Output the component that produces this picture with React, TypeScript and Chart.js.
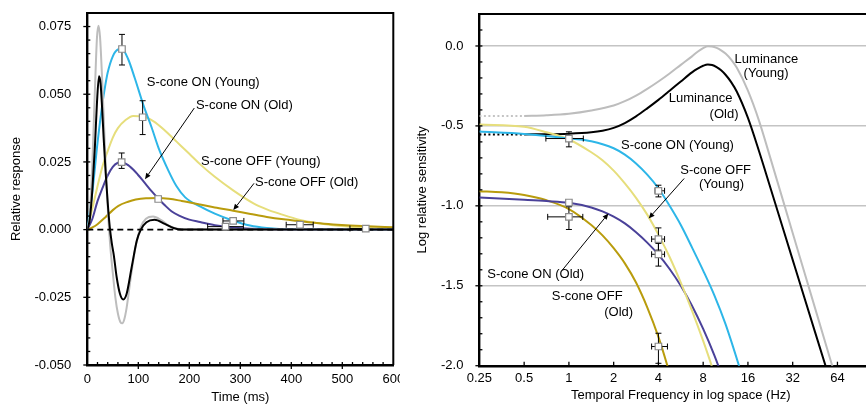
import React, { useEffect, useRef } from 'react';
import { Chart, registerables } from 'chart.js';

Chart.register(...registerables);

const FONT = '"Liberation Sans", Arial, Helvetica, sans-serif';

// ---------------- Left panel: impulse responses (time, ms) ----------------
const lumYoungT = [0, 5, 10, 15, 19, 22, 25, 29, 33, 37, 41, 45, 50, 55, 60, 65, 68.6, 72, 77, 85, 95, 105, 115, 129, 145, 160, 180, 200, 600];
const lumYoungV = [0, 0.006, 0.025, 0.052, 0.071, 0.0753, 0.071, 0.056, 0.038, 0.02, 0.005, -0.006, -0.016, -0.025, -0.031, -0.0342, -0.0346, -0.0335, -0.029, -0.018, -0.006, 0.001, 0.004, 0.0048, 0.0035, 0.0015, 0.0002, 0, 0];

const lumOldT = [0, 5, 10, 15, 19, 23, 26, 29, 32, 36, 40, 44, 48, 52, 57.6, 64, 70.6, 77, 87, 97, 105, 116, 132, 152, 169, 185, 600];
const lumOldV = [0, 0.004, 0.015, 0.031, 0.047, 0.0566, 0.054, 0.045, 0.034, 0.021, 0.01, 0.001, -0.005, -0.0095, -0.0176, -0.0237, -0.0258, -0.0238, -0.0139, -0.0041, 0, 0.0027, 0.0036, 0.0021, 0.0006, 0, 0];

const onYoungT = [0, 10, 20, 30, 35, 40, 50, 60, 68, 80, 93, 110, 126, 140, 159, 175, 192, 222, 250, 286, 319, 352, 400, 600];
const onYoungV = [0, 0.014, 0.032, 0.047, 0.053, 0.058, 0.064, 0.0665, 0.0667, 0.063, 0.056, 0.046, 0.0378, 0.03, 0.0218, 0.016, 0.0119, 0.0085, 0.0059, 0.0033, 0.0015, 0.0006, 0.0001, 0];

const offYoungT = [0, 10, 20, 30, 40, 50, 60, 75, 90, 110, 130, 150, 175, 200, 222, 250, 286, 325, 352, 378, 417, 482, 547, 600];
const offYoungV = [0, 0.008, 0.016, 0.0235, 0.029, 0.034, 0.0375, 0.0405, 0.042, 0.0418, 0.04, 0.037, 0.0325, 0.028, 0.024, 0.0195, 0.0145, 0.0098, 0.0075, 0.0058, 0.0036, 0.0016, 0.0007, 0.0003];

const onOldT = [0, 10, 20, 30, 40, 50, 60, 67, 80, 95, 113, 126, 139, 152, 165, 180, 200, 221, 250, 273, 320, 400, 600];
const onOldV = [0, 0.004, 0.0105, 0.0155, 0.02, 0.0232, 0.0247, 0.0249, 0.0238, 0.0212, 0.0172, 0.0142, 0.0115, 0.009, 0.0068, 0.0052, 0.0037, 0.0028, 0.0016, 0.001, 0.0003, 0, 0];

const offOldT = [0, 10, 20, 35, 50, 61, 80, 95, 115, 140, 160, 185, 221, 250, 286, 320, 352, 385, 417, 450, 482, 515, 550, 600];
const offOldV = [0, 0.0008, 0.002, 0.0045, 0.0072, 0.0088, 0.0103, 0.0111, 0.0116, 0.0117, 0.0114, 0.0106, 0.0093, 0.0082, 0.007, 0.0058, 0.0047, 0.0038, 0.0031, 0.0024, 0.0019, 0.0015, 0.0012, 0.0009];

const zeroT = [0, 600];
const zeroV = [0, 0];

// measured points with error bars (left)
const ptLT = [68, 108.5, 67.4, 139, 286, 271, 417, 546];
const ptLV = [0.0667, 0.0415, 0.0249, 0.0113, 0.0032, 0.0011, 0.0018, 0.0004];
const ptLYLo = [0.0608, 0.0351, 0.0226, 0.0104, 0.0032, 0.0011, 0.0018, 0.0004];
const ptLYHi = [0.0721, 0.0476, 0.0283, 0.0123, 0.0032, 0.0011, 0.0018, 0.0004];
const ptLXLo = [68, 108.5, 67.4, 139, 266, 236, 390, 515];
const ptLXHi = [68, 108.5, 67.4, 139, 307, 306, 443, 551];

const timeTicks = [0, 100, 200, 300, 400, 500, 600];
const respTicks = [-0.05, -0.025, 0, 0.025, 0.05, 0.075];

const leftLabels = ['S-cone ON (Young)', 'S-cone ON (Old)', 'S-cone OFF (Young)', 'S-cone OFF (Old)'];
const leftLabelT = [116.5, 213, 223, 328.8];
const leftLabelV = [0.0542, 0.0458, 0.0251, 0.0175];
const leftArrowT1 = [209.8, 326.9];
const leftArrowV1 = [0.0449, 0.0171];
const leftArrowT2 = [113.1, 286.3];
const leftArrowV2 = [0.0186, 0.0072];

// ---------------- Right panel: temporal sensitivity (Hz, log) ----------------
const dotGrayF = [0.25, 0.5];
const dotGrayV = [-0.4375, -0.4375];
const dotBlackF = [0.25, 0.5];
const dotBlackV = [-0.553, -0.553];

const lumYoungF = [0.5, 0.707, 1, 1.414, 2, 2.378, 2.828, 3.364, 4, 4.757, 5.657, 6.727, 7.34, 8, 8.6, 9.19, 9.85, 10.56, 11.31, 12.34, 13.45, 16, 19.03, 22.63, 32, 45.25, 64];
const lumYoungS = [-0.4375, -0.433, -0.4235, -0.403, -0.372, -0.345, -0.31, -0.268, -0.222, -0.172, -0.118, -0.065, -0.036, -0.013, -0.001, -0.003, -0.012, -0.027, -0.047, -0.085, -0.135, -0.28, -0.47, -0.7, -1.17, -1.64, -2.11];

const lumOldF = [0.5, 0.707, 1, 1.414, 1.682, 2, 2.378, 2.828, 3.364, 4, 4.757, 5.657, 6.727, 7.34, 8, 8.6, 9.19, 9.85, 10.56, 11.31, 12.34, 13.45, 16, 19.03, 22.63, 32, 45.25, 64];
const lumOldS = [-0.553, -0.552, -0.549, -0.54, -0.53, -0.512, -0.482, -0.44, -0.39, -0.337, -0.28, -0.222, -0.165, -0.142, -0.124, -0.116, -0.119, -0.132, -0.152, -0.18, -0.226, -0.285, -0.45, -0.66, -0.885, -1.338, -1.79, -2.24];

const onYoungF = [0.25, 0.5, 1, 1.414, 2, 2.378, 2.828, 3.364, 4, 4.757, 5.657, 6.727, 8, 9.514, 11.31, 13.93, 15];
const onYoungS = [-0.535, -0.55, -0.578, -0.596, -0.64, -0.68, -0.735, -0.805, -0.89, -1.0, -1.12, -1.26, -1.405, -1.56, -1.74, -2.0, -2.1];

const offYoungF = [0.25, 0.5, 0.707, 1, 1.414, 1.682, 2, 2.378, 2.828, 3.364, 4, 4.757, 5.657, 6.727, 8, 9.19, 10.56];
const offYoungS = [-0.491, -0.505, -0.54, -0.585, -0.665, -0.715, -0.78, -0.86, -0.95, -1.055, -1.18, -1.32, -1.48, -1.655, -1.845, -2.01, -2.2];

const onOldF = [0.25, 0.5, 0.707, 1, 1.414, 1.682, 2, 2.378, 2.828, 3.364, 4, 4.757, 5.657, 6.727, 8, 9.514, 10.2, 11];
const onOldS = [-0.948, -0.962, -0.97, -0.981, -1.01, -1.035, -1.068, -1.11, -1.165, -1.23, -1.305, -1.395, -1.5, -1.625, -1.77, -1.935, -2.01, -2.1];

const offOldF = [0.25, 0.354, 0.5, 0.707, 1, 1.414, 1.682, 2, 2.378, 2.828, 3.364, 4, 4.595, 5];
const offOldS = [-0.908, -0.915, -0.932, -0.965, -1.02, -1.12, -1.185, -1.265, -1.36, -1.48, -1.635, -1.82, -2.0, -2.12];

const ptRF = [1, 4, 1, 1, 4, 4, 4];
const ptRS = [-0.579, -0.906, -0.979, -1.069, -1.208, -1.303, -1.88];
const ptRYLo = [-0.631, -0.944, -0.979, -1.148, -1.277, -1.377, -1.985];
const ptRYHi = [-0.537, -0.871, -0.979, -1.006, -1.138, -1.235, -1.797];
const ptRXLo = [0.7, 3.8, 1, 0.72, 3.6, 3.6, 3.6];
const ptRXHi = [1.25, 4.4, 1, 1.24, 4.4, 4.4, 4.6];

const freqTicks = [0.25, 0.5, 1, 2, 4, 8, 16, 32, 64];
const sensTicks = [-2, -1.5, -1, -0.5, 0];

const rightLabels = ['Luminance', '(Young)', 'Luminance', '(Old)', 'S-cone ON (Young)', 'S-cone OFF', '(Young)', 'S-cone ON (Old)', 'S-cone OFF', '(Old)'];
const rightLabelAlign = ['center', 'center', 'center', 'center', 'left', 'left', 'left', 'left', 'left', 'left'];
const rightLabelF = [21.3, 21.2, 7.69, 11.05, 2.24, 5.61, 7.5, 0.2826, 0.767, 1.727];
const rightLabelS = [-0.083, -0.169, -0.331, -0.427, -0.625, -0.777, -0.866, -1.427, -1.569, -1.666];
const rightArrowF1 = [5.96, 0.903];
const rightArrowS1 = [-0.829, -1.402];
const rightArrowF2 = [3.44, 1.844];
const rightArrowS2 = [-1.079, -1.048];

// ---------------- colours ----------------
const C_GRAY = '#bdbdbd';
const C_BLACK = '#000000';
const C_BLUE = '#2db6e8';
const C_LYEL = '#e6de7c';
const C_PURP = '#4a4199';
const C_DYEL = '#b99c0d';

const pts = (xs: number[], ys: number[]) => xs.map((x, i) => ({ x, y: ys[i] }));

const lineDs = (xs: number[], ys: number[], color: string, order: number, extra: any = {}) => ({
  data: pts(xs, ys),
  showLine: true,
  borderColor: color,
  backgroundColor: color,
  borderWidth: 2,
  pointRadius: 0,
  cubicInterpolationMode: 'monotone',
  order,
  ...extra,
});

const markerDs = (xs: number[], ys: number[]) => ({
  data: pts(xs, ys),
  showLine: false,
  pointStyle: 'rect',
  pointRadius: 4.6,
  pointBorderWidth: 1.2,
  pointBorderColor: '#8a8a8a',
  pointBackgroundColor: '#ffffff',
  order: -1,
});

function makeDecor(cfg: any) {
  return {
    id: 'decor',
    beforeDatasetDraw(chart: any, args: any) {
      if (args.index !== cfg.markerIndex) return;
      const { ctx } = chart;
      const x = chart.scales.x;
      const y = chart.scales.y;
      const e = cfg.err;
      const cap = 3;
      ctx.save();
      ctx.strokeStyle = '#000';
      ctx.lineWidth = 1;
      const seg = (a: number, b: number, c: number, d: number) => {
        ctx.beginPath();
        ctx.moveTo(a, b);
        ctx.lineTo(c, d);
        ctx.stroke();
      };
      for (let i = 0; i < e.x.length; i++) {
        const px = x.getPixelForValue(e.x[i]);
        const py = y.getPixelForValue(e.y[i]);
        if (e.yLo[i] !== e.yHi[i]) {
          const a = y.getPixelForValue(e.yLo[i]);
          const b = y.getPixelForValue(e.yHi[i]);
          seg(px, a, px, b);
          seg(px - cap, a, px + cap, a);
          seg(px - cap, b, px + cap, b);
        }
        if (e.xLo[i] !== e.xHi[i]) {
          const a = x.getPixelForValue(e.xLo[i]);
          const b = x.getPixelForValue(e.xHi[i]);
          seg(a, py, b, py);
          seg(a, py - cap, a, py + cap);
          seg(b, py - cap, b, py + cap);
        }
      }
      ctx.restore();
    },
    afterDatasetsDraw(chart: any) {
      const { ctx } = chart;
      const x = chart.scales.x;
      const y = chart.scales.y;
      ctx.save();
      ctx.fillStyle = '#000';
      ctx.strokeStyle = '#000';
      ctx.font = `13px ${FONT}`;
      ctx.textBaseline = 'middle';
      cfg.labels.text.forEach((t: string, i: number) => {
        ctx.textAlign = cfg.labels.align ? cfg.labels.align[i] : 'left';
        ctx.fillText(t, x.getPixelForValue(cfg.labels.x[i]), y.getPixelForValue(cfg.labels.y[i]));
      });
      ctx.lineWidth = 1;
      for (let i = 0; i < cfg.arrows.x1.length; i++) {
        const x1 = x.getPixelForValue(cfg.arrows.x1[i]);
        const y1 = y.getPixelForValue(cfg.arrows.y1[i]);
        const x2 = x.getPixelForValue(cfg.arrows.x2[i]);
        const y2 = y.getPixelForValue(cfg.arrows.y2[i]);
        const ang = Math.atan2(y2 - y1, x2 - x1);
        const hl = 6;
        const hw = 2.6;
        const bx = x2 - hl * Math.cos(ang);
        const by = y2 - hl * Math.sin(ang);
        ctx.beginPath();
        ctx.moveTo(x1, y1);
        ctx.lineTo(bx, by);
        ctx.stroke();
        ctx.beginPath();
        ctx.moveTo(x2, y2);
        ctx.lineTo(bx + hw * Math.sin(ang), by - hw * Math.cos(ang));
        ctx.lineTo(bx - hw * Math.sin(ang), by + hw * Math.cos(ang));
        ctx.closePath();
        ctx.fill();
      }
      ctx.restore();
    },
    afterDraw(chart: any) {
      const { ctx, chartArea } = chart;
      const x = chart.scales.x;
      const y = chart.scales.y;
      const { left, right, top, bottom } = chartArea;
      ctx.save();
      ctx.strokeStyle = '#000';
      ctx.lineWidth = 2;
      ctx.beginPath();
      ctx.moveTo(left - 1, top);
      ctx.lineTo(cfg.frameRight ? right : chart.width, top);
      if (cfg.frameRight) {
        ctx.lineTo(right, bottom);
      }
      ctx.stroke();
      ctx.lineWidth = 1.3;
      const seg = (a: number, b: number, c: number, d: number) => {
        ctx.beginPath();
        ctx.moveTo(a, b);
        ctx.lineTo(c, d);
        ctx.stroke();
      };
      cfg.yMajor.forEach((v: number) => {
        const py = y.getPixelForValue(v);
        seg(left - cfg.yMajorLen, py, left, py);
      });
      const ny = Math.round((cfg.yMax - cfg.yMin) / cfg.yMinorStep);
      for (let i = 0; i <= ny; i++) {
        const v = cfg.yMin + i * cfg.yMinorStep;
        const py = y.getPixelForValue(v);
        if (py < top + 1 || py > bottom - 1) continue;
        seg(left, py, left + 3, py);
      }
      cfg.xMajor.forEach((v: number) => {
        const px = x.getPixelForValue(v);
        if (px <= left + 1 || px >= right - 1) return;
        if (cfg.xMajorInside) seg(px, bottom, px, bottom - 4);
        else seg(px, bottom, px, bottom + 4);
      });
      if (cfg.xMinorStep) {
        const nx = Math.round((cfg.xMax - cfg.xMin) / cfg.xMinorStep);
        for (let i = 1; i < nx; i++) {
          const px = x.getPixelForValue(cfg.xMin + i * cfg.xMinorStep);
          seg(px, bottom, px, bottom - 3);
        }
      }
      ctx.restore();
    },
  };
}

const tickFont = { family: FONT, size: 13 };

function LeftChart() {
  const ref = useRef<HTMLCanvasElement | null>(null);
  useEffect(() => {
    if (!ref.current) return;
    const datasets: any[] = [
      lineDs(zeroT, zeroV, '#000', 0, { borderDash: [6, 4], borderWidth: 1.6, cubicInterpolationMode: 'default', tension: 0 }),
      lineDs(lumOldT, lumOldV, C_BLACK, 1),
      lineDs(lumYoungT, lumYoungV, C_GRAY, 2),
      lineDs(onOldT, onOldV, C_PURP, 3),
      lineDs(offOldT, offOldV, C_DYEL, 4),
      lineDs(onYoungT, onYoungV, C_BLUE, 5),
      lineDs(offYoungT, offYoungV, C_LYEL, 6),
      markerDs(ptLT, ptLV),
    ];
    const decor = makeDecor({
      markerIndex: 7,
      err: { x: ptLT, y: ptLV, yLo: ptLYLo, yHi: ptLYHi, xLo: ptLXLo, xHi: ptLXHi },
      labels: { text: leftLabels, x: leftLabelT, y: leftLabelV },
      arrows: { x1: leftArrowT1, y1: leftArrowV1, x2: leftArrowT2, y2: leftArrowV2 },
      frameRight: true,
      yMajor: respTicks,
      yMajorLen: 4,
      yMin: -0.05,
      yMax: 0.08,
      yMinorStep: 0.005,
      xMajor: timeTicks,
      xMajorInside: false,
      xMin: 0,
      xMax: 600,
      xMinorStep: 20,
    });
    const chart = new Chart(ref.current, {
      type: 'scatter',
      data: { datasets },
      plugins: [decor],
      options: {
        animation: false,
        responsive: false,
        events: [],
        layout: { padding: { top: 13, right: 6.7, left: 0, bottom: 0 } },
        plugins: { legend: { display: false }, tooltip: { enabled: false } },
        scales: {
          x: {
            type: 'linear',
            min: 0,
            max: 600,
            afterBuildTicks: (s: any) => {
              s.ticks = timeTicks.map((v) => ({ value: v }));
            },
            afterFit: (s: any) => {
              s.height = 40;
              s.paddingLeft = 0;
              s.paddingRight = 0;
            },
            grid: { display: true, drawOnChartArea: false, drawTicks: false },
            border: { display: true, color: '#000', width: 2.4 },
            ticks: { padding: 7, color: '#000', font: tickFont, maxRotation: 0, autoSkip: false, callback: (v: any) => String(v) },
            title: { display: true, text: 'Time (ms)', color: '#000', font: tickFont, padding: { top: 0, bottom: 0 } },
          },
          y: {
            type: 'linear',
            min: -0.05,
            max: 0.08,
            afterBuildTicks: (s: any) => {
              s.ticks = respTicks.map((v) => ({ value: v }));
            },
            afterFit: (s: any) => {
              s.width = 87.3;
              s.paddingTop = 0;
              s.paddingBottom = 0;
            },
            grid: { display: true, drawOnChartArea: false, drawTicks: false },
            border: { display: true, color: '#000', width: 2.4 },
            ticks: { padding: 16, color: '#000', font: tickFont, callback: (v: any) => Number(v).toFixed(3) },
            title: { display: true, text: 'Relative response', color: '#000', font: tickFont, padding: { top: 9, bottom: 0 } },
          },
        },
      } as any,
    });
    return () => chart.destroy();
  }, []);
  return <canvas ref={ref} width={400} height={405} style={{ position: 'absolute', left: 0, top: 0, width: 400, height: 405 }} />;
}

function RightChart() {
  const ref = useRef<HTMLCanvasElement | null>(null);
  useEffect(() => {
    if (!ref.current) return;
    const datasets: any[] = [
      lineDs(dotGrayF, dotGrayV, '#c4c4c4', 8, { borderDash: [2, 2.5], borderWidth: 2, tension: 0 }),
      lineDs(dotBlackF, dotBlackV, C_BLACK, 8, { borderDash: [2, 2.5], borderWidth: 2, tension: 0 }),
      lineDs(lumYoungF, lumYoungS, C_GRAY, 7),
      lineDs(lumOldF, lumOldS, C_BLACK, 6),
      lineDs(offOldF, offOldS, C_DYEL, 5),
      lineDs(onOldF, onOldS, C_PURP, 4),
      lineDs(offYoungF, offYoungS, C_LYEL, 3),
      lineDs(onYoungF, onYoungS, C_BLUE, 2),
      markerDs(ptRF, ptRS),
    ];
    const decor = makeDecor({
      markerIndex: 8,
      err: { x: ptRF, y: ptRS, yLo: ptRYLo, yHi: ptRYHi, xLo: ptRXLo, xHi: ptRXHi },
      labels: { text: rightLabels, align: rightLabelAlign, x: rightLabelF, y: rightLabelS },
      arrows: { x1: rightArrowF1, y1: rightArrowS1, x2: rightArrowF2, y2: rightArrowS2 },
      frameRight: false,
      yMajor: sensTicks,
      yMajorLen: 4,
      yMin: -2,
      yMax: 0.2,
      yMinorStep: 0.1,
      xMajor: freqTicks,
      xMajorInside: true,
      xMinorStep: 0,
    });
    const chart = new Chart(ref.current, {
      type: 'scatter',
      data: { datasets },
      plugins: [decor],
      options: {
        animation: false,
        responsive: false,
        events: [],
        layout: { padding: { top: 14, right: 0, left: 0, bottom: 1.5 } },
        plugins: { legend: { display: false }, tooltip: { enabled: false } },
        scales: {
          x: {
            type: 'logarithmic',
            min: 0.25,
            max: 128,
            afterBuildTicks: (s: any) => {
              s.ticks = freqTicks.map((v) => ({ value: v }));
            },
            afterFit: (s: any) => {
              s.height = 37.8;
              s.paddingLeft = 0;
              s.paddingRight = 0;
            },
            grid: { display: true, drawOnChartArea: false, drawTicks: false },
            border: { display: true, color: '#000', width: 2.4 },
            ticks: { padding: 4.5, color: '#000', font: tickFont, maxRotation: 0, autoSkip: false, callback: (v: any) => String(v) },
            title: { display: true, text: 'Temporal Frequency in log space (Hz)', color: '#000', font: tickFont, padding: { top: 0, bottom: 0 } },
          },
          y: {
            type: 'linear',
            min: -2,
            max: 0.2,
            afterBuildTicks: (s: any) => {
              s.ticks = sensTicks.map((v) => ({ value: v }));
            },
            afterFit: (s: any) => {
              s.width = 79.4;
              s.paddingTop = 0;
              s.paddingBottom = 0;
            },
            grid: {
              display: true,
              drawOnChartArea: true,
              drawTicks: false,
              lineWidth: 1.5,
              color: (c: any) => (c.tick && c.tick.value > -1.99 ? '#c4c4c4' : 'rgba(0,0,0,0)'),
            },
            border: { display: true, color: '#000', width: 2.4 },
            ticks: { padding: 16, color: '#000', font: tickFont, callback: (v: any) => Number(v).toFixed(1) },
            title: { display: true, text: 'Log relative sensitivity', color: '#000', font: tickFont, padding: { top: 15, bottom: 0 } },
          },
        },
      } as any,
    });
    return () => chart.destroy();
  }, []);
  return <canvas ref={ref} width={488} height={405} style={{ position: 'absolute', left: 400, top: 0, width: 488, height: 405 }} />;
}

export default function App() {
  return (
    <div style={{ position: 'absolute', left: 0, top: 0, width: 866, height: 405, background: '#fff', overflow: 'hidden' }}>
      <LeftChart />
      <RightChart />
    </div>
  );
}
